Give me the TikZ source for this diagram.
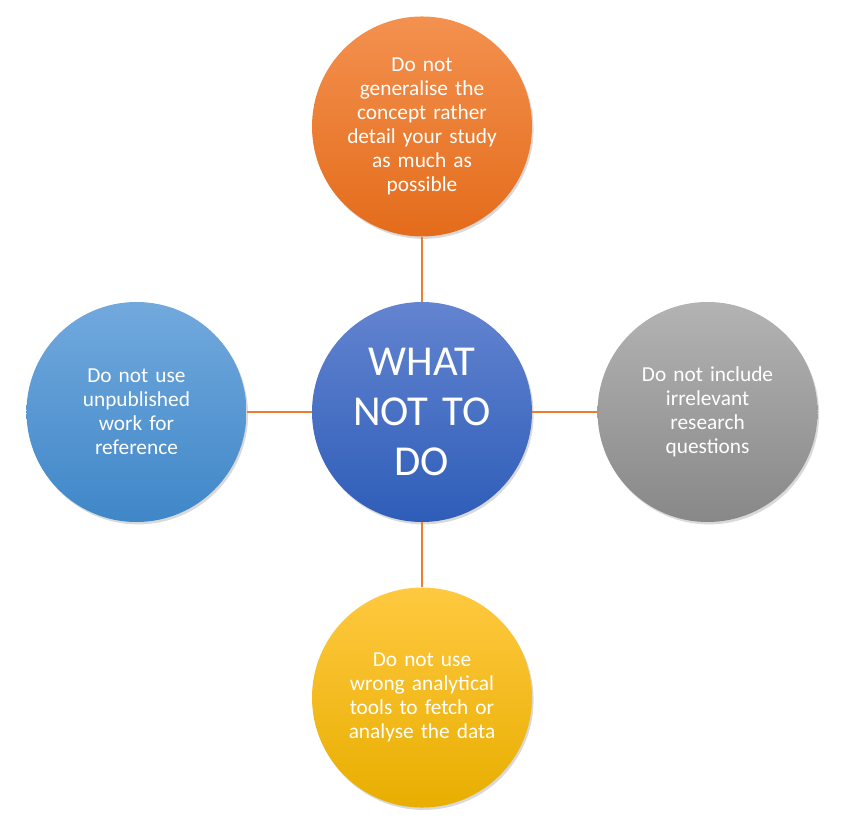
\documentclass[tikz,border=0pt]{standalone}
\usepackage{fontspec}
\setmainfont{Carlito}[WordSpace=0.8]
\usepackage{tikz}
\usetikzlibrary{positioning,shadows}
\usepackage{xcolor}
\definecolor{linkor}{HTML}{ED7D31}
\definecolor{orTop}{HTML}{F3914F}
\definecolor{orBot}{HTML}{E46C1B}
\definecolor{cbTop}{HTML}{6384D0}
\definecolor{cbBot}{HTML}{2E5DB8}
\definecolor{lbTop}{HTML}{72A9DD}
\definecolor{lbBot}{HTML}{3F87C8}
\definecolor{gyTop}{HTML}{B3B3B3}
\definecolor{gyBot}{HTML}{888888}
\definecolor{ywTop}{HTML}{FFC940}
\definecolor{ywBot}{HTML}{E8AE00}

\begin{document}
\begin{tikzpicture}[
  every node/.style={align=center, text=white},
  bubble/.style={circle, minimum size=165pt, inner sep=0pt, text width=120pt,
    font=\fontsize{16pt}{18pt}\selectfont,
    drop shadow={shadow xshift=1.2pt, shadow yshift=-1.8pt, opacity=0.3}},
  hub/.style={bubble, font=\fontsize{32pt}{37.5pt}\selectfont},
  link/.style={draw=linkor, line width=1.5pt},
  node distance=48.75pt
]
\useasboundingbox (-316.5pt,-304.5pt) rectangle (315.75pt,309pt);
% Centre
\node[hub, top color=cbTop, bottom color=cbBot] (hub) {WHAT\\NOT TO\\DO};
% Four points round it
\node[bubble, top color=orTop, bottom color=orBot, above=of hub] (general) {Do not\\generalise the\\concept rather\\detail your study\\as much as\\possible};
\node[bubble, top color=lbTop, bottom color=lbBot, left=of hub] (unpub) {Do not use\\unpublished\\work for\\reference};
\node[bubble, top color=gyTop, bottom color=gyBot, right=of hub] (irrel) {Do not include\\irrelevant\\research\\questions};
\node[bubble, top color=ywTop, bottom color=ywBot, below=of hub] (tools) {Do not use\\wrong analytical\\tools to fetch or\\analyse the data};
% Links
\draw[link] (general) -- (hub);
\draw[link] (unpub) -- (hub);
\draw[link] (irrel) -- (hub);
\draw[link] (tools) -- (hub);
\end{tikzpicture}
\end{document}
